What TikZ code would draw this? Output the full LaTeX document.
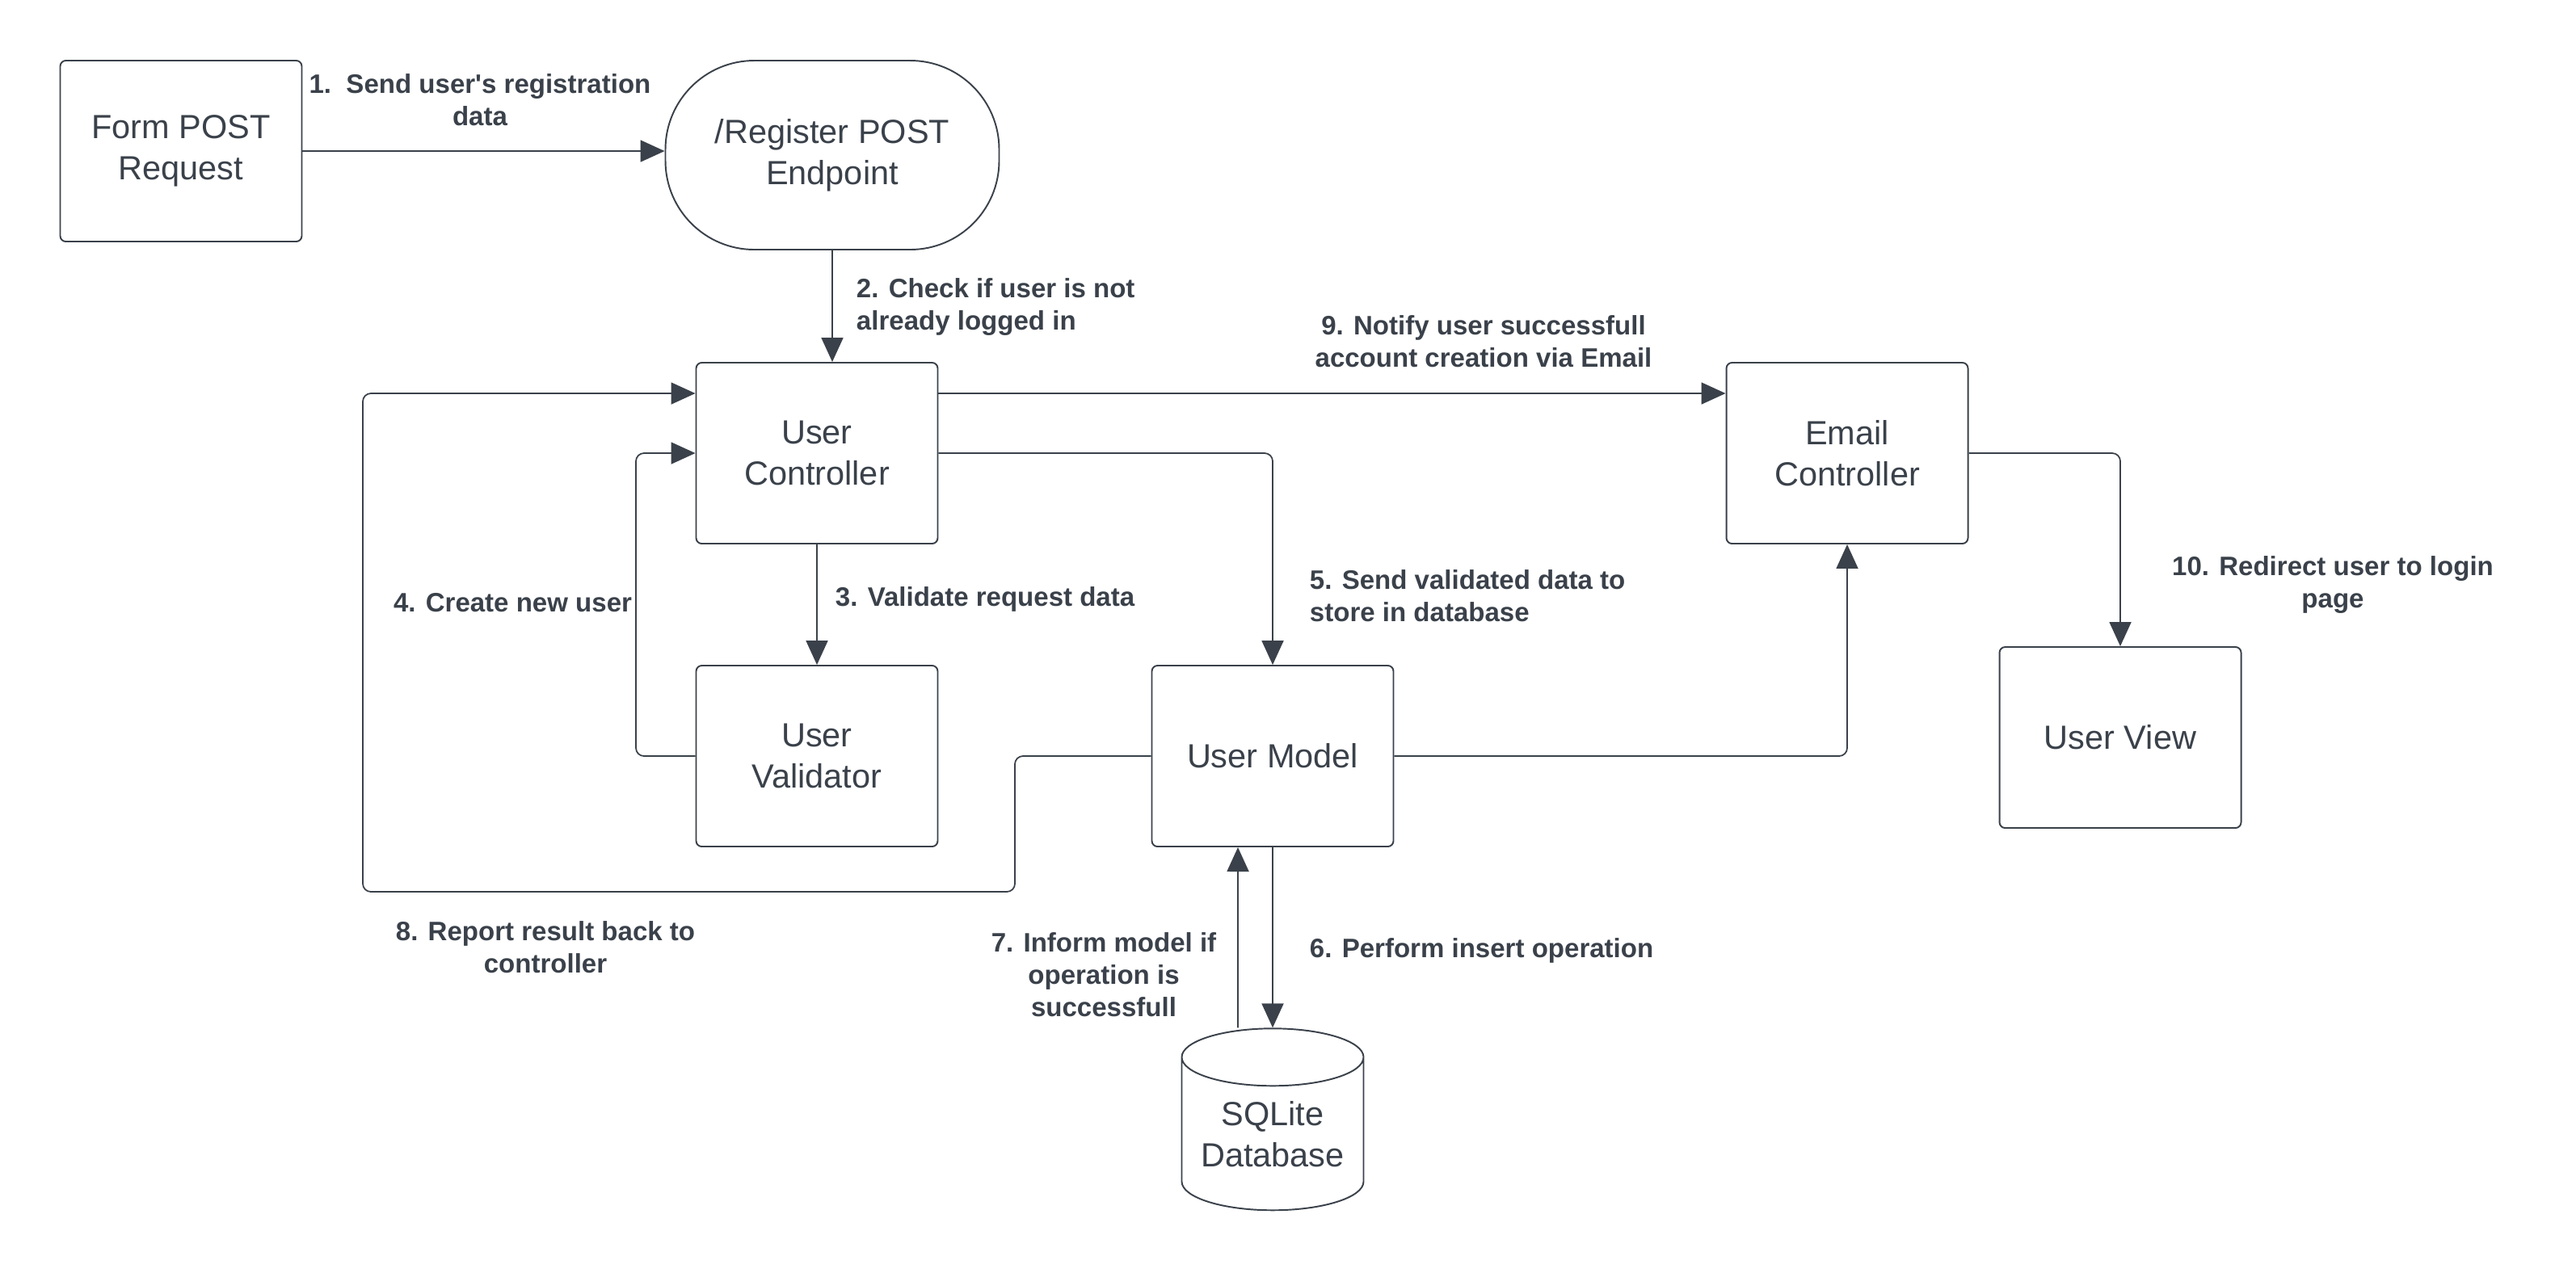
\documentclass[tikz,border=0pt]{standalone}
\usepackage{fontspec}
\setmainfont{Liberation Sans}
\usepackage{tikz}
\usetikzlibrary{positioning}
\usetikzlibrary{arrows.meta}
\usetikzlibrary{shapes.geometric}
\usetikzlibrary{math}
\usetikzlibrary{calc}

\definecolor{ink}{RGB}{58,65,74}

\begin{document}
\begin{tikzpicture}[line width=0.55pt, color=ink,
    block/.style={draw, rounded corners=0.07cm, minimum width=2.99cm,
      minimum height=2.24cm, align=center, inner sep=0pt,
      font=\fontsize{11.8}{14.5}\selectfont},
    msg/.style={inner sep=0pt, font=\bfseries\fontsize{9.4}{11.4}\selectfont},
    flow/.style={-{Triangle[length=0.3cm,width=0.27cm]}, rounded corners=0.1cm,
      line width=0.5pt}]

  \tikzmath{
    \rowone = -5.61; % row of the two controllers
    \rowtwo = -9.36; % row of validator and model
    \lift   = 0.74;  % offset of the upper connectors
    \back   = -0.43; % offset of the return arrow from the database
  }

  \useasboundingbox (0,0) rectangle (31.88,-15.75);

  % boxes
  \node[block] (form) at (2.24,-1.87) {Form POST\\Request};
  \node[block, rounded corners=1.1cm, minimum width=4.13cm,
    minimum height=2.34cm] (endpoint) at (10.30,-1.92) {/Register POST\\Endpoint};
  \node[block] (ucontrol) at (10.11,\rowone) {User\\Controller};
  \node[block] (uvalid) at (10.11,\rowtwo) {User\\Validator};
  \node[block] (umodel) at (15.75,\rowtwo) {User Model};
  \node[block] (econtrol) at (22.86,\rowone) {Email\\Controller};
  \node[block] (uview) at (26.24,-9.13) {User View};

  % database
  \node[draw, cylinder, shape border rotate=90, aspect=0.4, minimum width=2.25cm,
    minimum height=2.25cm, align=center, inner sep=0pt,
    font=\fontsize{11.8}{14.5}\selectfont] (db) at (15.75,-14.04) {SQLite\\Database};

  % bends of the long connectors
  \coordinate (c4) at (7.87,0);
  \coordinate (c8a) at (12.56,-11.04);
  \coordinate (c8b) at (4.49,-11.04);

  % connectors
  \draw[flow] (form.east) -- (form.east -| endpoint.west);
  \draw[flow] (endpoint.south) -- (endpoint.south |- ucontrol.north);
  \draw[flow] (ucontrol) -- (uvalid);
  \draw[flow] (uvalid.west) -- (uvalid.west -| c4) |- (ucontrol.west);
  \draw[flow] (ucontrol.east) -| (umodel.north);
  \draw[flow] (umodel.south) -- (db.north);
  \draw[flow] ([xshift=\back cm]db.north) -- ([xshift=\back cm]umodel.south);
  \draw[flow] (umodel.west) -| (c8a) -- (c8b) |- ([yshift=\lift cm]ucontrol.west);
  \draw[flow] ([yshift=\lift cm]ucontrol.east) -- ([yshift=\lift cm]econtrol.west);
  \draw[flow] (umodel.east) -| (econtrol.south);
  \draw[flow] (econtrol.east) -| (uview.north);

  % step labels
  \node[msg, align=center] (l1) at (5.94,-1.24) {1.\ \ Send user\textquotesingle s registration\\data};
  \node[msg, align=left, anchor=west] (l2) at (10.59,-3.80) {2. Check if user is not\\already logged in};
  \node[msg, anchor=west] (l3) at (10.33,-7.42) {3. Validate request data};
  \node[msg, anchor=east] (l4) at (7.83,-7.46) {4. Create new user};
  \node[msg, align=left, anchor=west] (l5) at (16.20,-7.38) {5. Send validated data to\\store in database};
  \node[msg, anchor=west] (l6) at (16.20,-11.77) {6. Perform insert operation};
  \node[msg, align=center] (l7) at (13.66,-12.07) {7. Inform model if\\operation is\\successfull};
  \node[msg, align=center] (l8) at (6.75,-11.73) {8. Report result back to\\controller};
  \node[msg, align=center] (l9) at (18.36,-4.23) {9. Notify user successfull\\account creation via Email};
  \node[msg, align=center] (l10) at (28.87,-7.24) {10. Redirect user to login\\page};

\end{tikzpicture}
\end{document}
